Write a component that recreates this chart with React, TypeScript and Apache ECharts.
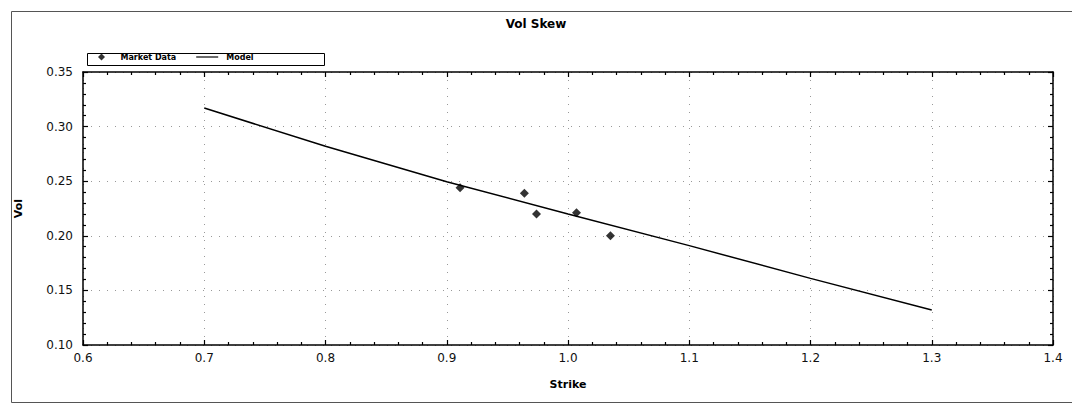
import React, { useEffect, useRef } from "react";
import * as echarts from "echarts";

const title = "Vol Skew";
const xName = "Strike";
const yName = "Vol";
const marketStrikes = [0.911, 0.964, 0.974, 1.007, 1.035];
const marketVols = [0.244, 0.239, 0.22, 0.221, 0.2];
const modelStrikes = [0.7, 0.8, 0.9, 1.0, 1.1, 1.2, 1.3];
const modelVols = [0.317, 0.282, 0.2495, 0.22, 0.191, 0.161, 0.132];

export default function App() {
  const ref = useRef<HTMLDivElement>(null);
  useEffect(() => {
    if (!ref.current) return;
    const chart = echarts.init(ref.current, null, { renderer: "svg" });
    const font = "DejaVu Sans";
    const grid = { left: 83, right: 19, top: 72, bottom: 60 };
    const axisCommon = {
      axisLine: { show: true, onZero: false, lineStyle: { color: "#000", width: 1.5 } },
      axisTick: { show: true, inside: true, length: 5, lineStyle: { color: "#000", width: 1.2 } },
      minorTick: { show: true, splitNumber: 5, length: 3, lineStyle: { color: "#000", width: 1.2 } },
    };
    const dotted = { color: "#999", type: [1, 7], width: 1 };
    chart.setOption({
      animation: false,
      backgroundColor: "#fff",
      textStyle: { fontFamily: font },
      title: {
        text: title,
        left: "center",
        top: 13,
        textStyle: { fontSize: 12, fontWeight: "bold", color: "#000", fontFamily: font },
      },
      legend: {
        left: 98,
        top: 53,
        itemWidth: 22,
        itemHeight: 7,
        itemGap: 20,
        padding: 0,
        symbolKeepAspect: true,
        textStyle: { fontSize: 8, fontWeight: "bold", color: "#000", padding: [0, 0, 0, 3] },
        data: [
          { name: "Market Data", icon: "path://M5,0 L10,5 L5,10 L0,5 Z" },
          { name: "Model", icon: "path://M0,0 L30,0 L30,1.6 L0,1.6 Z" },
        ],
      },
      graphic: [
        {
          type: "rect",
          left: 9,
          top: 9,
          shape: { width: 1080, height: 391 },
          style: { fill: "none", stroke: "#555", lineWidth: 1 },
          silent: true,
        },
        {
          type: "rect",
          left: 85,
          top: 51,
          shape: { width: 237, height: 12 },
          style: { fill: "none", stroke: "#000", lineWidth: 1 },
          silent: true,
        },
      ],
      grid,
      xAxis: [
        {
          type: "value",
          min: 0.6,
          max: 1.4,
          interval: 0.1,
          name: xName,
          nameLocation: "middle",
          nameGap: 34,
          nameTextStyle: { fontSize: 11, fontWeight: "bold", color: "#000" },
          position: "bottom",
          ...axisCommon,
          axisLabel: {
            margin: 7,
            fontSize: 12,
            color: "#111",
            formatter: (v: number) => v.toFixed(1),
          },
          splitLine: { show: true, lineStyle: dotted },
        },
        {
          type: "value",
          min: 0.6,
          max: 1.4,
          interval: 0.1,
          position: "top",
          ...axisCommon,
          axisLabel: { show: false },
          splitLine: { show: false },
        },
      ],
      yAxis: [
        {
          type: "value",
          min: 0.1,
          max: 0.35,
          interval: 0.05,
          name: yName,
          nameLocation: "middle",
          nameGap: 59,
          nameTextStyle: { fontSize: 11, fontWeight: "bold", color: "#000" },
          position: "left",
          ...axisCommon,
          axisLabel: {
            margin: 10,
            fontSize: 12,
            color: "#111",
            formatter: (v: number) => v.toFixed(2),
          },
          splitLine: { show: true, lineStyle: dotted },
        },
        {
          type: "value",
          min: 0.1,
          max: 0.35,
          interval: 0.05,
          position: "right",
          ...axisCommon,
          axisLabel: { show: false },
          splitLine: { show: false },
        },
      ],
      series: [
        {
          name: "Market Data",
          type: "scatter",
          symbol: "diamond",
          symbolSize: 9,
          itemStyle: { color: "#000" },
          data: marketStrikes.map((x, i) => [x, marketVols[i]]),
          z: 5,
        },
        {
          name: "Model",
          type: "line",
          symbol: "none",
          showSymbol: false,
          lineStyle: { color: "#000", width: 1.5 },
          itemStyle: { color: "#000" },
          data: modelStrikes.map((x, i) => [x, modelVols[i]]),
        },
      ],
    });
    return () => chart.dispose();
  }, []);
  return (
    <div
      ref={ref}
      style={{ position: "fixed", left: 0, top: 0, width: 1072, height: 405 }}
    />
  );
}
